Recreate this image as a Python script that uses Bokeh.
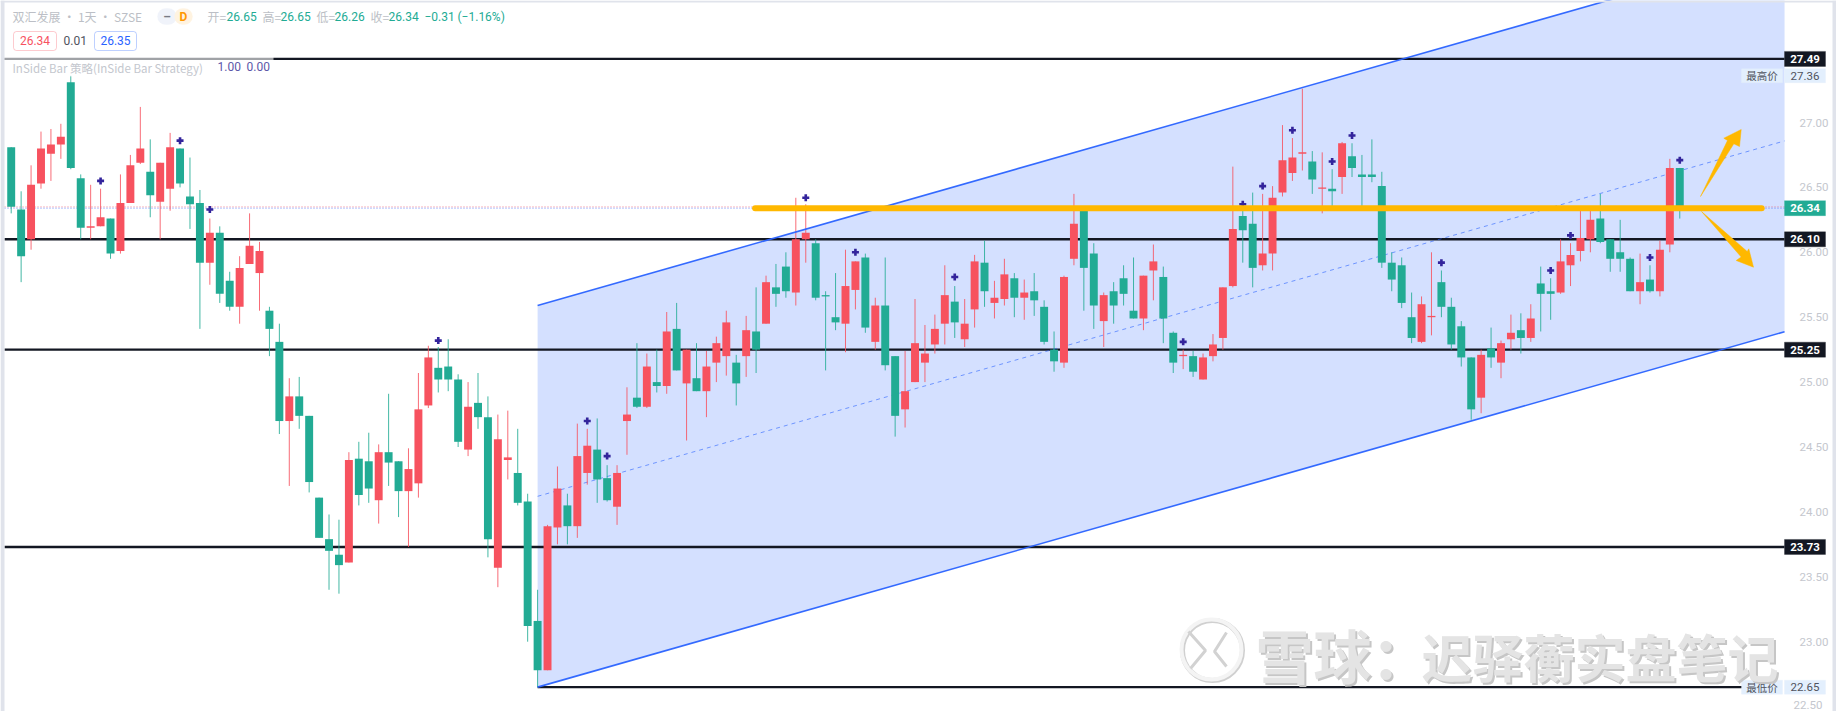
from bokeh.plotting import figure
from bokeh.models import Label, BoxAnnotation, LinearAxis, FixedTicker, Range1d
from bokeh.embed import file_html
from bokeh.resources import INLINE

open_ = [26.81,26.33,26.10,26.53,26.76,26.83,27.31,26.57,26.19,26.20,
26.26,26.01,26.38,26.69,26.62,26.39,26.49,26.80,26.43,26.38,
25.92,26.15,25.78,25.58,25.91,25.84,25.55,25.31,24.70,24.89,
24.74,24.11,23.79,23.67,23.61,24.41,24.39,24.09,24.46,24.39,
24.16,24.22,24.82,25.11,25.12,25.02,24.48,24.84,24.73,23.57,
24.40,24.30,24.08,23.16,22.78,23.88,24.05,23.89,24.30,24.48,
24.26,24.04,24.70,24.88,24.81,25.00,24.97,25.41,24.99,25.03,
24.93,25.15,25.20,25.15,25.20,25.39,25.45,25.73,25.89,25.69,
26.10,26.07,25.67,25.50,25.45,25.71,25.96,25.31,25.59,25.20,
24.79,25.00,25.15,25.29,25.45,25.62,25.33,25.56,25.92,25.61,
25.64,25.80,25.65,25.70,25.58,25.25,25.15,25.95,26.34,25.99,
25.47,25.70,25.80,25.55,25.49,25.86,25.81,25.38,25.20,25.20,
25.02,25.20,25.34,25.74,26.28,26.22,25.90,25.99,26.46,26.61,
26.76,26.70,26.49,26.49,26.58,26.74,26.60,26.60,26.51,25.92,
25.90,25.50,25.31,25.50,25.77,25.58,25.43,25.19,24.88,25.26,
25.15,25.33,25.40,25.34,25.76,25.70,25.69,25.90,26.01,26.10,
26.26,26.10,26.00,25.95,25.70,25.79,25.70,26.06,26.65]

close = [26.35,25.97,26.52,26.80,26.83,26.89,26.65,26.19,26.20,26.27,
25.99,26.38,26.67,26.80,26.44,26.69,26.81,26.53,26.37,25.92,
26.15,25.68,25.58,25.88,26.05,26.01,25.41,24.70,24.89,24.74,
24.23,23.80,23.70,23.59,24.40,24.13,24.18,24.46,24.38,24.16,
24.33,24.79,25.19,25.02,25.02,24.54,24.81,24.73,23.79,24.56,
24.42,24.07,23.12,22.78,23.89,24.18,23.89,24.43,24.51,24.25,
24.09,24.30,24.75,24.81,25.12,24.97,25.39,25.09,25.25,24.93,
25.12,25.30,25.46,24.99,25.40,25.25,25.77,25.68,25.70,26.10,
26.15,25.65,25.66,25.46,25.74,25.93,25.42,25.59,25.13,24.74,
24.93,25.30,25.22,25.41,25.67,25.46,25.45,25.93,25.70,25.65,
25.83,25.65,25.69,25.63,25.31,25.16,25.81,26.22,25.88,25.59,
25.67,25.59,25.68,25.49,25.82,25.93,25.49,25.15,25.21,25.08,
25.19,25.29,25.73,26.18,26.17,25.88,25.99,26.42,26.71,26.73,
26.77,26.56,26.50,26.47,26.84,26.65,26.58,26.58,25.92,25.79,
25.61,25.34,25.60,25.51,25.58,25.29,25.19,24.79,25.21,25.19,
25.30,25.38,25.34,25.49,25.68,25.68,25.93,25.98,26.11,26.25,
26.08,25.95,25.95,25.70,25.77,25.70,26.02,26.65,26.34]

high = [26.81,26.47,26.67,26.93,26.95,26.99,27.36,26.60,26.52,26.49,
26.26,26.60,26.75,27.12,26.87,26.69,26.92,26.80,26.73,26.48,
26.26,26.20,25.85,25.97,26.30,26.08,25.58,25.45,25.03,25.04,
24.74,24.11,23.98,23.94,24.46,24.54,24.61,24.52,24.91,24.39,
24.49,25.07,25.28,25.27,25.33,25.06,25.00,25.07,24.89,24.75,
24.78,24.64,24.14,23.40,23.90,24.35,24.14,24.68,24.64,24.72,
24.36,24.36,24.96,25.30,25.22,25.25,25.54,25.61,25.25,25.30,
25.24,25.35,25.55,25.21,25.51,25.73,25.82,25.91,26.00,26.42,
26.37,26.10,25.70,25.84,26.02,25.93,25.99,25.65,25.96,25.20,
25.24,25.64,25.44,25.52,25.90,25.74,25.64,25.98,26.09,25.78,
25.95,25.84,25.79,25.84,25.63,25.39,25.82,26.45,26.34,26.07,
25.69,25.77,25.90,25.96,25.82,26.06,25.89,25.39,25.25,25.24,
25.22,25.37,25.73,26.66,26.35,26.46,26.45,26.51,26.98,26.88,
27.26,26.78,26.77,26.64,26.85,26.84,26.75,26.87,26.62,26.00,
25.96,25.69,25.66,26.00,25.86,25.65,25.47,25.19,25.25,25.42,
25.32,25.52,25.53,25.60,25.89,25.80,26.10,26.07,26.32,26.32,
26.45,26.10,26.25,25.96,25.99,25.90,26.09,26.72,26.65]

low = [26.30,25.77,26.02,26.49,26.55,26.72,26.64,26.10,26.10,26.20,
25.95,25.99,26.38,26.68,26.27,26.10,26.32,26.50,26.18,25.41,
25.75,25.61,25.55,25.45,25.91,25.55,25.20,24.60,24.20,24.64,
24.15,23.80,23.40,23.37,23.61,24.05,24.07,23.91,24.20,23.96,
23.73,24.11,24.80,24.92,24.93,24.50,24.43,24.64,23.65,23.42,
24.25,24.05,23.00,22.65,22.78,23.75,23.75,23.80,24.21,24.07,
24.08,23.90,24.44,24.80,24.80,24.92,24.91,25.09,24.55,24.93,
24.73,25.00,25.05,24.82,25.04,25.07,25.45,25.58,25.65,25.59,
25.92,25.63,25.09,25.40,25.23,25.56,25.38,25.25,25.09,24.58,
24.65,25.00,25.00,25.22,25.29,25.34,25.27,25.42,25.58,25.49,
25.59,25.50,25.48,25.51,25.29,25.08,25.11,25.90,25.55,25.41,
25.27,25.45,25.59,25.49,25.40,25.63,25.30,25.07,25.10,25.04,
25.02,25.16,25.25,25.73,25.92,25.73,25.86,25.86,26.43,26.55,
26.63,26.45,26.30,26.35,26.45,26.58,26.35,26.54,25.88,25.70,
25.57,25.30,25.30,25.36,25.50,25.25,25.12,24.71,24.76,25.11,
25.03,25.25,25.22,25.31,25.39,25.48,25.68,25.74,25.93,26.00,
26.07,25.85,25.85,25.70,25.60,25.69,25.66,26.00,26.26]

signal_bar = [9,17,20,43,58,60,80,85,95,118,124,126,129,133,135,144,155,157,165,168]
signal_price = [26.55,26.86,26.33,25.32,24.70,24.43,26.42,26.00,25.81,25.31,26.37,26.51,26.94,26.70,26.90,25.92,25.86,26.13,25.96,26.71]

level_prices = [27.49, 26.10, 25.25, 23.73]
level_labels = ["27.49", "26.10", "25.25", "23.73"]
low_level = 22.65
high_level = 27.36
last_price = 26.34
ask_price = 26.35

channel_x = [53, 178.55]
channel_low = [22.65, 25.388]
channel_mid = [24.12, 26.858]
channel_up = [25.59, 28.328]

orange_x = [74.9, 176.25]
tick_values = [23.0, 23.5, 24.0, 24.5, 25.0, 25.5, 26.0, 26.5, 27.0]
tick_labels = {t: f"{t:.2f}" for t in tick_values}
bottom_tick_text = "22.50"

TEAL, RED, INK, BLUE, GOLD = "#22ab94", "#f7525f", "#131722", "#2962ff", "#ffb800"
GREY = "#c4c7ce"


def X(px):
    return (px - 10.7) / 9.932


def Y(py):
    return 27 - (py - 122) / 129.8


p = figure(width=1836, height=711, output_backend="svg", toolbar_location=None,
           x_range=Range1d(X(0), X(1836)), y_range=Range1d(Y(711), Y(0)),
           x_axis_location=None, y_axis_location=None,
           min_border_left=0, min_border_top=0, min_border_bottom=0, min_border_right=0,
           outline_line_color=None, background_fill_color="white", border_fill_color="white")
p.grid.visible = False

# channel
p.patch(channel_x + channel_x[::-1], channel_up + channel_low[::-1], fill_color=BLUE, fill_alpha=0.2, line_alpha=0)

# horizontal levels
x_left, x_right = [X(4)] * len(level_prices), [X(1784)] * len(level_prices)
p.segment(x_left, level_prices, x_right, level_prices, line_color=INK, line_width=2.4)
p.segment([53], [low_level], [X(1742)], [low_level], line_color=INK, line_width=2.4)

# last price dotted
p.segment([X(4)], [ask_price], [X(1784)], [ask_price], line_color=RED, line_width=1, line_dash="1 2", line_alpha=0.7)
p.segment([X(4)], [last_price], [X(1784)], [last_price], line_color=BLUE, line_width=1, line_dash="1 2", line_alpha=0.7)

p.line(channel_x, channel_mid, line_color=BLUE, line_width=1, line_dash="4 4", line_alpha=0.6)

# candles
idx = list(range(len(open_)))
colors = [RED if c >= o else TEAL for o, c in zip(open_, close)]
p.segment(idx, high, idx, low, line_color=colors, line_width=1, line_alpha=0.85)
p.vbar(idx, 0.8, open_, close, fill_color=colors, line_color=colors, line_width=0)
p.scatter(signal_bar, signal_price, marker="plus", size=7, fill_color="#33249c", line_color="#33249c", line_width=0)

p.line(channel_x, channel_low, line_color=BLUE, line_width=1.6, line_alpha=0.95)
p.line(channel_x, channel_up, line_color=BLUE, line_width=1.6, line_alpha=0.95)

# gold drawing
p.line(orange_x, [last_price, last_price], line_color=GOLD, line_width=6, line_cap="round")
up_arrow = [(1700, 196), (1727, 140), (1723.3, 137.7), (1740.7, 129), (1739, 146), (1733.3, 143.3)]
down_arrow = [(1701, 211), (1746.7, 251), (1748.3, 248.3), (1753, 266.7), (1735.7, 260), (1740.7, 256.5)]
for arrow in (up_arrow, down_arrow):
    p.patch([X(a) for a, b in arrow], [Y(b) for a, b in arrow], fill_color=GOLD, line_color=GOLD, line_width=0.5)

# legend veil over the top level
p.add_layout(BoxAnnotation(left=4, right=273, top=Y(56), bottom=Y(76), left_units="canvas", right_units="canvas",
                           fill_color="white", fill_alpha=0.6, line_alpha=0))

axis = LinearAxis(ticker=FixedTicker(ticks=tick_values), major_label_overrides=tick_labels,
                  axis_line_color=None, major_tick_line_color=None, minor_tick_line_color=None,
                  major_label_text_color=GREY, major_label_text_font="Roboto",
                  major_label_text_font_size="11.5px", major_label_standoff=-43)
p.add_layout(axis, "right")


def label(px, py, text, color, size, weight="normal", align="left", font="Roboto", alpha=1.0):
    p.add_layout(Label(x=px, y=Y(py), x_units="canvas", y_units="data", text=text, text_color=color,
                       text_font=font, text_font_size=f"{size}px", text_font_style=weight,
                       text_align=align, text_baseline="middle", text_alpha=alpha))


def box(px0, px1, py0, py1, fill, line=None, radius=0):
    p.add_layout(BoxAnnotation(left=px0, right=px1, top=Y(py0), bottom=Y(py1),
                               left_units="canvas", right_units="canvas",
                               fill_color=fill, fill_alpha=1, line_color=line or fill,
                               line_width=1, border_radius=radius))


# lowest axis label sits against the page's bottom edge
label(1793, 704, bottom_tick_text, GREY, 11.5)

# legend
label(12, 16, "双汇发展 · 1天 · SZSE", "#bcbfc6", 12, font="Noto Sans CJK SC")
box(157, 176, 8, 24, "#f0f3fa", radius=8)
box(174, 192, 8, 24, "#fff3e0", radius=8)
label(166.5, 16, "–", "#787b86", 12, "bold", "center")
label(183, 16, "D", "#ff9800", 12, "bold", "center")
pieces = [(207, "开=", "#bcbfc6"), (226, "26.65", TEAL), (262, "高=", "#bcbfc6"), (280, "26.65", TEAL),
          (316, "低=", "#bcbfc6"), (334, "26.26", TEAL), (370, "收=", "#bcbfc6"), (388, "26.34", TEAL),
          (424, "−0.31", TEAL), (457, "(−1.16%)", TEAL)]
for px, t, c in pieces:
    label(px, 16, t, c, 12, font="Noto Sans CJK SC" if "=" in t else "Roboto")
box(13, 56, 31, 50, "white", RED, 3)
label(34.5, 40, "26.34", RED, 12, align="center")
label(63, 40, "0.01", "#50535e", 12)
box(94, 136, 31, 50, "white", BLUE, 3)
label(115, 40, "26.35", BLUE, 12, align="center")
label(12, 67, "InSide Bar 策略(InSide Bar Strategy)", "#c4c7ce", 11.5, font="Noto Sans CJK SC")
label(217, 66, "1.00", "#5d58a8", 12)
label(246, 66, "0.00", "#5d58a8", 12)

# price badges
for price, text in zip(level_prices, level_labels):
    py = 122 + (27 - price) * 129.8
    box(1784, 1825, py - 7.5, py + 7.5, INK)
    label(1804.5, py, text, "white", 11.5, "bold", "center")
py_last = 122 + (27 - last_price) * 129.8
box(1784, 1825, py_last - 7.5, py_last + 7.5, TEAL)
label(1804.5, py_last, "26.34", "white", 11.5, "bold", "center")
for price, name, text in ((high_level, "最高价", "27.36"), (low_level, "最低价", "22.65")):
    py = 122 + (27 - price) * 129.8
    box(1741, 1782, py - 7, py + 7, "#e3effd")
    box(1784, 1825, py - 7, py + 7, "#e3effd")
    label(1761.5, py, name, "#50535e", 10.5, align="center", font="Noto Sans CJK SC")
    label(1804.5, py, text, "#50535e", 11.5, align="center")

# outer strips
for l, r, t, b in ((1832, 1836, 0, 711), (0, 4, 0, 711), (0, 1836, 0, 2)):
    p.add_layout(BoxAnnotation(left=l, right=r, top=Y(t), bottom=Y(b), left_units="canvas", right_units="canvas",
                               fill_color="#e0e3eb", fill_alpha=1, line_alpha=0))

# watermark logo
p.scatter([X(1212)], [Y(650)], marker="circle", size=60, fill_alpha=0, line_color="#d0d0d0", line_width=5)
p.scatter([X(1211)], [Y(649)], marker="circle", size=60, fill_alpha=0, line_color="#f4f4f4", line_width=4)
p.multi_line([[X(1188), X(1205), X(1190)], [X(1226), X(1214), X(1226)]],
             [[Y(631), Y(650), Y(668)], [Y(632), Y(651), Y(666)]],
             line_color="#d2d2d2", line_width=3)

# watermark text
for dx, dy, col in ((2, 2, "#c6c6c6"), (0, 0, "#e4e4e4")):
    label(1255 + dx, 653 + dy, "雪球：", col, 58, "bold", font="Noto Sans CJK SC")
    label(1421 + dx, 655 + dy, "迟驿蘅实盘笔记", col, 51, "bold", font="Noto Sans CJK SC")

open("out.html", "w").write(file_html(p, INLINE))
